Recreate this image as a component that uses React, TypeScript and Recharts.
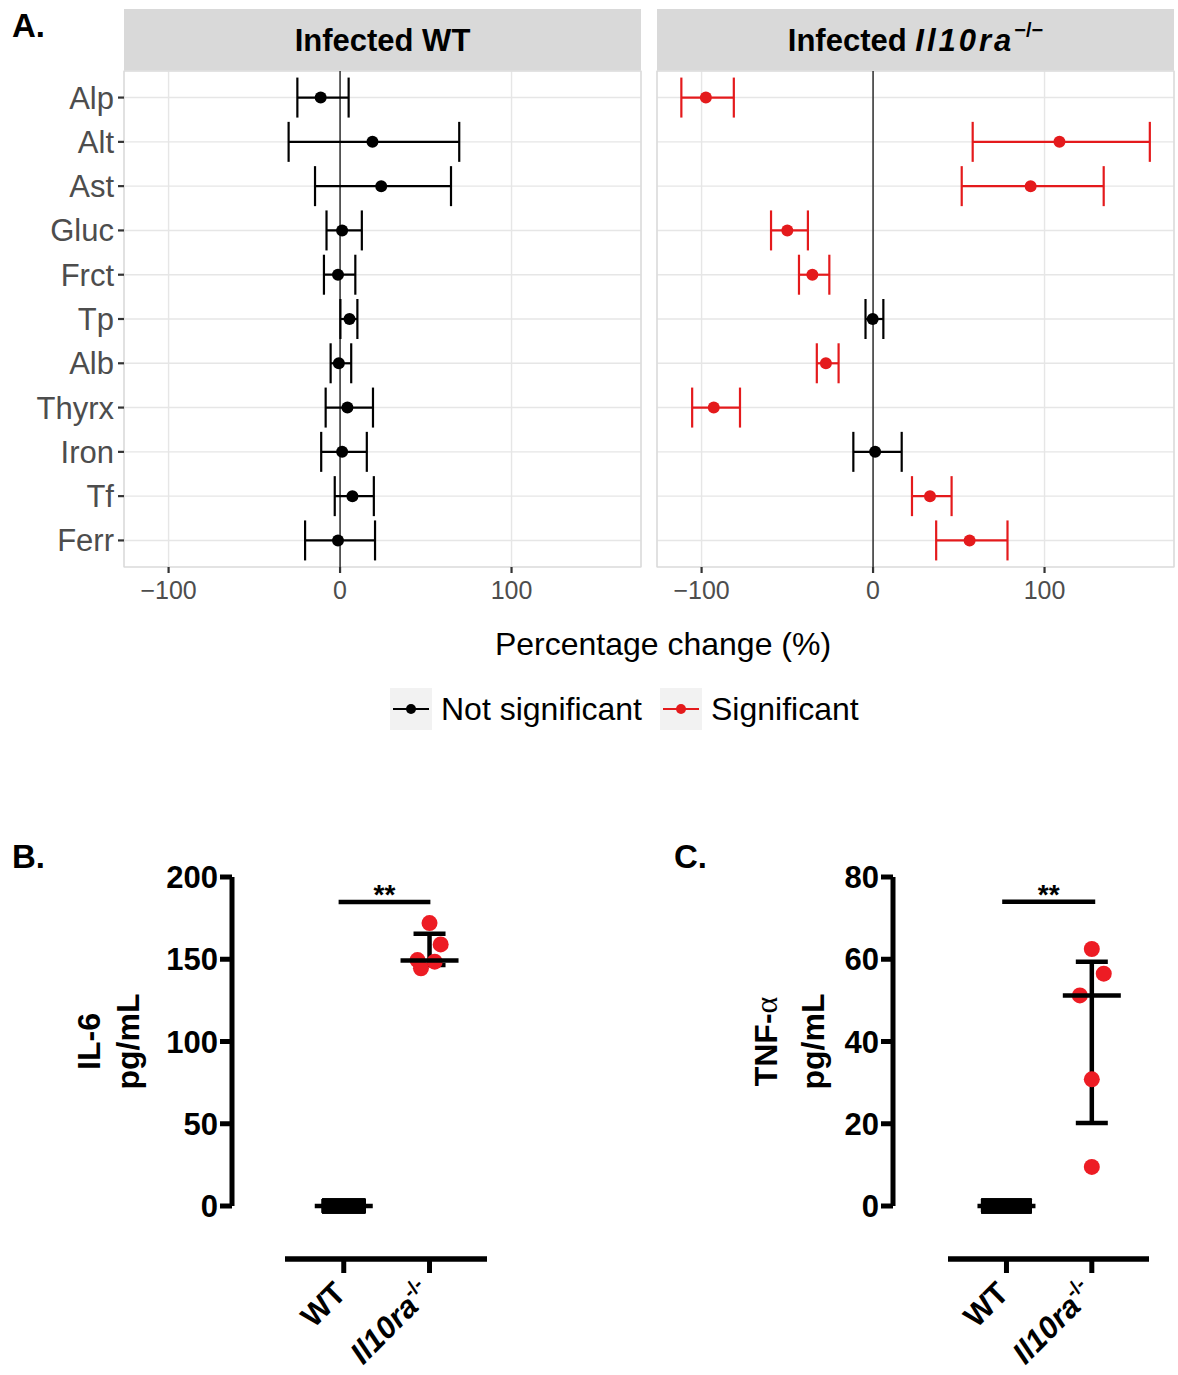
import React from 'react';
import {
  ScatterChart, Scatter, XAxis, YAxis, CartesianGrid,
  ErrorBar, ReferenceLine, ReferenceArea
} from 'recharts';

const FONT = '"Liberation Sans", Arial, Helvetica, sans-serif';
const RED_A = '#e41a1c';
const RED_B = '#ed1c24';

// Panel A: percentage change of each analyte
const analytes = ['Alp', 'Alt', 'Ast', 'Gluc', 'Frct', 'Tp', 'Alb', 'Thyrx', 'Iron', 'Tf', 'Ferr'];
const wtChange = [-11.3, 18.9, 24, 1.2, -1.2, 5.5, -0.7, 4.3, 1.2, 7.2, -1.2];
const wtLower = [-24.9, -30, -14.6, -7.9, -9.4, 0.2, -5.5, -8.4, -11, -3.1, -20.4];
const wtUpper = [5, 69.5, 64.7, 12.7, 8.9, 10.1, 6.5, 19.2, 15.6, 19.7, 20.4];
const wtSignificant = [false, false, false, false, false, false, false, false, false, false, false];
const koChange = [-97.5, 108.7, 91.9, -50, -35.4, -0.2, -27.5, -92.9, 1.2, 33.2, 56.3];
const koLower = [-111.8, 58.1, 51.7, -59.5, -43.2, -4.4, -32.8, -105.5, -11.5, 22.7, 36.8];
const koUpper = [-81.2, 161.4, 134.5, -38, -25.5, 6, -20.1, -77.6, 16.7, 45.8, 78.4];
const koSignificant = [true, true, true, true, true, false, true, true, false, true, true];
const changeTicks = [-100, 0, 100];
const changeDomain = [-126, 175.5];

// Panels B and C: cytokines, WT vs Il10ra-/-
const il6Wt = [0, 0, 0, 0, 0];
const il6Ko = [172, 159, 149.5, 148.5, 144.5];
const il6KoSpread = [0, 0.13, -0.14, 0.06, -0.1];
const il6Median = [0, 149.3];
const il6Q1 = [0, 146.5];
const il6Q3 = [0, 165.5];
const il6Ticks = [0, 50, 100, 150, 200];
const il6SigLevel = 184.8;

const tnfWt = [0, 0, 0, 0, 0];
const tnfKo = [62.5, 56.5, 51.2, 30.8, 9.5];
const tnfKoSpread = [0, 0.14, -0.14, 0, 0];
const tnfMedian = [0, 51.2];
const tnfQ1 = [0, 20.2];
const tnfQ3 = [0, 59.4];
const tnfTicks = [0, 20, 40, 60, 80];
const tnfSigLevel = 74;

const groupDomain = [0.315, 2.67];

type FacetProps = {
  left: number;
  width: number;
  marginLeft: number;
  showY: boolean;
  change: number[];
  lower: number[];
  upper: number[];
  significant: boolean[];
};

const Facet = (p: FacetProps) => {
  const rows = analytes.map((name, i) => ({
    name,
    row: i + 1,
    change: p.change[i],
    err: [p.change[i] - p.lower[i], p.upper[i] - p.change[i]],
    sig: p.significant[i],
  }));
  const groups = [
    { sig: false, color: '#000000' },
    { sig: true, color: RED_A },
  ];
  return (
    <div style={{ position: 'absolute', left: p.left, top: 0 }}>
      <ScatterChart width={p.width} height={620} margin={{ top: 71, right: 4, bottom: 0, left: p.marginLeft }}>
        <CartesianGrid stroke="#e6e6e6" strokeWidth={1.4} />
        <XAxis
          type="number"
          dataKey="change"
          domain={changeDomain}
          ticks={changeTicks}
          interval={0}
          tickFormatter={(v: number) => (v < 0 ? `\u2212${-v}` : `${v}`)}
          axisLine={false}
          tickLine={{ stroke: '#333333', strokeWidth: 2.2 }}
          tickSize={6}
          tickMargin={8}
          tick={{ fontSize: 25, fill: '#4d4d4d', fontFamily: FONT }}
          height={53}
        />
        <YAxis
          type="number"
          dataKey="row"
          domain={[0.4, 11.6]}
          reversed
          ticks={rows.map((r) => r.row)}
          interval={0}
          tickFormatter={(v: number) => analytes[v - 1]}
          hide={!p.showY}
          width={124}
          axisLine={false}
          tickLine={{ stroke: '#333333', strokeWidth: 2.2 }}
          tickSize={6}
          tickMargin={4}
          tick={{ fontSize: 31, fill: '#4d4d4d', fontFamily: FONT }}
        />
        <ReferenceArea
          x1={changeDomain[0]} x2={changeDomain[1]} y1={0.4} y2={11.6}
          fill="none" fillOpacity={0} stroke="#d9d9d9" strokeWidth={1.2}
        />
        <ReferenceLine x={0} stroke="#000000" strokeWidth={1.2} />
        {groups.map((g) => (
          <Scatter
            key={String(g.sig)}
            data={rows.filter((r) => r.sig === g.sig)}
            isAnimationActive={false}
            shape={(d: any) => <circle cx={d.cx} cy={d.cy} r={6} fill={g.color} />}
          >
            <ErrorBar dataKey="err" direction="x" width={20} stroke={g.color} strokeWidth={2.2} />
          </Scatter>
        ))}
      </ScatterChart>
    </div>
  );
};

const GroupTick = (props: any) => {
  const { x, y, payload } = props;
  const first = Math.round(payload.value) === 1;
  return (
    <g transform={`translate(${x + 4},${y + 22})`}>
      <text transform="rotate(-45)" textAnchor="end" fontSize={31} fontWeight="bold" fontFamily={FONT} fill="#000">
        {first ? 'WT' : (
          <>
            <tspan fontStyle="italic">Il10ra</tspan>
            <tspan fontSize={20} dy={-13}>-/-</tspan>
          </>
        )}
      </text>
    </g>
  );
};

type CytoProps = {
  left: number;
  width: number;
  right: number;
  axisWidth: number;
  gap: number;
  wt: number[];
  ko: number[];
  spread: number[];
  median: number[];
  q1: number[];
  q3: number[];
  ticks: number[];
  sigLevel: number;
  sigFrom: number;
  sigTo: number;
  wtWidth: number;
  title: React.ReactNode[];
  titleOffsets: number[];
};

const Cytokine = (p: CytoProps) => {
  const wtPts = p.wt.map((v) => ({ x: 1, y: v }));
  const koPts = p.ko.map((v, i) => ({ x: 2 + p.spread[i], y: v }));
  const summary = p.median.map((m, i) => ({ x: i + 1, y: m, err: [m - p.q1[i], p.q3[i] - m] }));
  const yDomain = [0, p.ticks[p.ticks.length - 1]];

  const renderTitle = (lp: any) => {
    const vb = lp.viewBox || {};
    const ax = (vb.x || 0) + (vb.width || 0);
    const cy = (vb.y || 0) + (vb.height || 0) / 2;
    return (
      <g>
        {p.title.map((line, i) => (
          <text
            key={i}
            transform={`translate(${ax - p.titleOffsets[i]},${cy}) rotate(-90)`}
            textAnchor="middle"
            dy="0.36em"
            fontSize={32}
            fontWeight="bold"
            fontFamily={FONT}
            fill="#000"
          >
            {line}
          </text>
        ))}
      </g>
    );
  };

  const renderStars = (lp: any) => {
    const vb = lp.viewBox || {};
    return (
      <text
        x={(vb.x || 0) + (vb.width || 0) / 2}
        y={(vb.y || 0) + 2}
        textAnchor="middle"
        fontSize={28}
        fontWeight="bold"
        fontFamily={FONT}
        fill="#000"
      >
        **
      </text>
    );
  };

  return (
    <div style={{ position: 'absolute', left: p.left, top: 840 }}>
      <ScatterChart width={p.width} height={535} margin={{ top: 37, right: p.right, bottom: 0, left: 0 }}>
        <XAxis xAxisId="gap" type="number" dataKey="x" domain={groupDomain} height={53} tick={false} axisLine={false} tickLine={false} />
        <XAxis
          xAxisId="val"
          type="number"
          dataKey="x"
          domain={groupDomain}
          ticks={[1, 2]}
          interval={0}
          height={116}
          axisLine={{ stroke: '#000', strokeWidth: 5.5 }}
          tickLine={{ stroke: '#000', strokeWidth: 5 }}
          tickSize={14}
          tickMargin={0}
          tick={<GroupTick />}
        />
        <YAxis yAxisId="gap" type="number" dataKey="y" domain={yDomain} width={p.gap} tick={false} axisLine={false} tickLine={false} />
        <YAxis
          yAxisId="val"
          type="number"
          dataKey="y"
          domain={yDomain}
          ticks={p.ticks}
          interval={0}
          width={p.axisWidth}
          axisLine={{ stroke: '#000', strokeWidth: 5 }}
          tickLine={{ stroke: '#000', strokeWidth: 5 }}
          tickSize={12}
          tickMargin={2}
          tick={{ fontSize: 31, fontWeight: 700, fill: '#000', fontFamily: FONT }}
          label={{ content: renderTitle }}
        />
        <Scatter
          xAxisId="val" yAxisId="val" data={wtPts} isAnimationActive={false}
          shape={(d: any) => <rect x={d.cx - p.wtWidth / 2} y={d.cy - 7.5} width={p.wtWidth} height={15} rx={1} fill="#000" />}
        />
        <Scatter
          xAxisId="val" yAxisId="val" data={koPts} isAnimationActive={false}
          shape={(d: any) => <circle cx={d.cx} cy={d.cy} r={8} fill={RED_B} />}
        />
        <Scatter
          xAxisId="val" yAxisId="val" data={summary} isAnimationActive={false}
          shape={(d: any) => <line x1={d.cx - 29} x2={d.cx + 29} y1={d.cy} y2={d.cy} stroke="#000" strokeWidth={4.5} />}
        >
          <ErrorBar dataKey="err" direction="y" width={16} stroke="#000" strokeWidth={4.5} />
        </Scatter>
        <ReferenceLine
          xAxisId="val" yAxisId="val"
          segment={[{ x: p.sigFrom, y: p.sigLevel }, { x: p.sigTo, y: p.sigLevel }]}
          stroke="#000" strokeWidth={4.5}
          label={{ content: renderStars }}
        />
      </ScatterChart>
    </div>
  );
};

export default function App() {
  return (
    <div style={{ position: 'absolute', left: 0, top: 0, width: 1178, height: 1375, background: '#fff', fontFamily: FONT }}>
      <svg width={1178} height={1375} style={{ position: 'absolute', left: 0, top: 0 }}>
        <rect x={124} y={9} width={517} height={62} fill="#d9d9d9" />
        <rect x={657} y={9} width={517} height={62} fill="#d9d9d9" />
        <text x={382.5} y={51} textAnchor="middle" fontSize={31} fontWeight="bold" fontFamily={FONT}>Infected WT</text>
        <text x={915.5} y={51} textAnchor="middle" fontSize={31} fontWeight="bold" fontFamily={FONT}>
          Infected <tspan fontStyle="italic" letterSpacing={3}>Il10ra</tspan>
          <tspan fontSize={20} dy={-14}>{'\u2212/\u2212'}</tspan>
        </text>
        <text x={12} y={37} fontSize={33} fontWeight="bold" fontFamily={FONT}>A.</text>
        <text x={12} y={868} fontSize={33} fontWeight="bold" fontFamily={FONT}>B.</text>
        <text x={674} y={868} fontSize={33} fontWeight="bold" fontFamily={FONT}>C.</text>
        <text x={663} y={655} textAnchor="middle" fontSize={32} fontFamily={FONT}>Percentage change (%)</text>
        <rect x={390} y={688} width={42} height={42} fill="#f2f2f2" />
        <line x1={393} x2={429} y1={709} y2={709} stroke="#000" strokeWidth={2.2} />
        <circle cx={411} cy={709} r={5} fill="#000" />
        <text x={441} y={720} fontSize={32} fontFamily={FONT}>Not significant</text>
        <rect x={660} y={688} width={42} height={42} fill="#f2f2f2" />
        <line x1={663} x2={699} y1={709} y2={709} stroke={RED_A} strokeWidth={2.2} />
        <circle cx={681} cy={709} r={5} fill={RED_A} />
        <text x={711} y={720} fontSize={32} fontFamily={FONT}>Significant</text>
      </svg>
      <Facet left={0} width={645} marginLeft={0} showY change={wtChange} lower={wtLower} upper={wtUpper} significant={wtSignificant} />
      <Facet left={640} width={538} marginLeft={17} showY={false} change={koChange} lower={koLower} upper={koUpper} significant={koSignificant} />
      <Cytokine
        left={0} width={520} right={33} axisWidth={232} gap={53}
        wt={il6Wt} ko={il6Ko} spread={il6KoSpread} median={il6Median} q1={il6Q1} q3={il6Q3}
        ticks={il6Ticks} sigLevel={il6SigLevel} sigFrom={0.94} sigTo={2.01} wtWidth={44}
        title={['IL-6', 'pg/mL']} titleOffsets={[144, 105]}
      />
      <Cytokine
        left={640} width={538} right={29} axisWidth={253} gap={55}
        wt={tnfWt} ko={tnfKo} spread={tnfKoSpread} median={tnfMedian} q1={tnfQ1} q3={tnfQ3}
        ticks={tnfTicks} sigLevel={tnfSigLevel} sigFrom={0.95} sigTo={2.04} wtWidth={51}
        title={[<>TNF-<tspan fontFamily='"Liberation Serif", serif' fontWeight="normal">{'\u03b1'}</tspan></>, 'pg/mL']}
        titleOffsets={[128, 81]}
      />
    </div>
  );
}
